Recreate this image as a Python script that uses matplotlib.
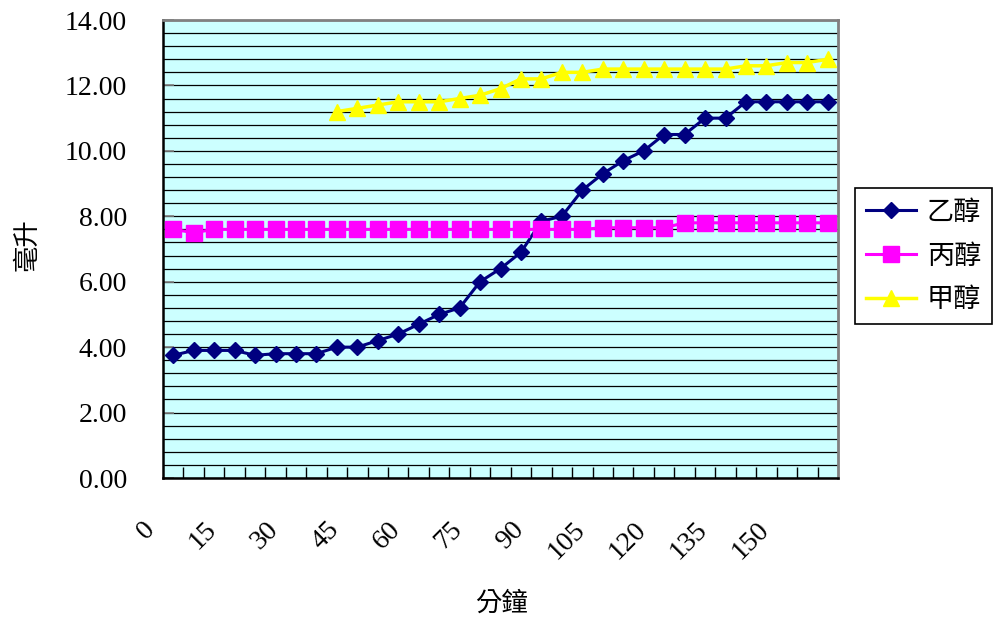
import numpy as np
import matplotlib
matplotlib.use("Agg")
import matplotlib.pyplot as plt
from matplotlib.transforms import ScaledTranslation

plt.rcParams['font.family'] = ['Liberation Serif', 'Noto Sans CJK TC']

# minutes on the category axis (one every 5 min)
minutes = [0, 5, 10, 15, 20, 25, 30, 35, 40, 45, 50, 55, 60, 65, 70, 75, 80,
           85, 90, 95, 100, 105, 110, 115, 120, 125, 130, 135, 140, 145, 150, 155, 160]

ethanol = [3.75, 3.9, 3.9, 3.9, 3.75, 3.8, 3.8, 3.8, 4.0, 4.0, 4.2, 4.4, 4.7,
           5.0, 5.2, 6.0, 6.4, 6.9, 7.85, 8.0, 8.8, 9.3, 9.7, 10.0, 10.5, 10.5,
           11.0, 11.0, 11.5, 11.5, 11.5, 11.5, 11.5]
propanol = [7.6, 7.5, 7.6, 7.6, 7.6, 7.6, 7.6, 7.6, 7.6, 7.6, 7.6, 7.6, 7.6,
            7.6, 7.6, 7.6, 7.6, 7.6, 7.6, 7.6, 7.6, 7.65, 7.65, 7.65, 7.65,
            7.8, 7.8, 7.8, 7.8, 7.8, 7.8, 7.8, 7.8]
# methanol only measured from 40 min on
methanol_start = 40
methanol = [11.2, 11.3, 11.4, 11.5, 11.5, 11.5, 11.6, 11.7, 11.9, 12.2, 12.2,
            12.4, 12.4, 12.5, 12.5, 12.5, 12.5, 12.5, 12.5, 12.5, 12.6, 12.6,
            12.7, 12.7, 12.8]

labels = ['乙醇', '丙醇', '甲醇']

pos = np.arange(len(minutes))
m0 = minutes.index(methanol_start)

fig = plt.figure(figsize=(9.96, 6.21), dpi=100)
ax = fig.add_axes([163/996, 1 - 478/621, 675/996, 458/621])
ax.set_facecolor('#CCFFFF')

ax.plot(pos, ethanol, color='#000080', lw=2.2, marker='D', ms=8.5,
        mfc='#000080', mec='#000080', label=labels[0], zorder=3)
ax.plot(pos, propanol, color='#FF00FF', lw=2.2, marker='s', ms=11.5,
        mfc='#FF00FF', mec='#FF00FF', label=labels[1], zorder=3)
ax.plot(pos[m0:], methanol, color='#FFFF00', lw=2.5, marker='^', ms=11.5,
        mfc='#FFFF00', mec='#FFFF00', label=labels[2], zorder=3)

ax.set_xlim(-0.5, len(minutes) - 0.5)
ax.set_ylim(0, 14)

# y axis
ax.set_yticks(np.arange(0, 14.01, 2))
ax.set_yticks(np.arange(0, 14.01, 0.4), minor=True)
ax.yaxis.set_major_formatter(matplotlib.ticker.FormatStrFormatter('%.2f'))
ax.yaxis.grid(True, which='both', color='black', lw=0.9)
ax.set_axisbelow(True)
ax.tick_params(axis='y', which='major', direction='in', length=8, width=1.2,
               color='#808080', labelsize=20, pad=26)
ax.tick_params(axis='y', which='minor', length=0)

# x axis: ticks between categories, label every 3rd category
ax.set_xticks(pos[::3])
ax.set_xticklabels([str(m) for m in minutes[::3]], rotation=45, ha='right', va='top')
ax.set_xticks(np.arange(0.5, len(minutes) - 0.5, 1), minor=True)
ax.tick_params(axis='x', which='major', length=0, labelsize=20, pad=28)
ax.tick_params(axis='x', which='minor', direction='in', length=8, width=1.0, color='black')
off = ScaledTranslation(-13/100, 0, fig.dpi_scale_trans)
for lab in ax.get_xticklabels():
    lab.set_transform(lab.get_transform() + off)

for side in ['left', 'bottom']:
    ax.spines[side].set_color('black')
    ax.spines[side].set_linewidth(1.8)
for side in ['top', 'right']:
    ax.spines[side].set_color('#808080')
    ax.spines[side].set_linewidth(2)

fig.text(27/996, 1 - 245/621, '毫升', rotation=90, ha='center', va='center',
         fontsize=19, family=['Noto Sans CJK TC'])
fig.text(501/996, 1 - 603/621, '分鐘', ha='center', va='center',
         fontsize=19, family=['Noto Sans CJK TC'])

leg = ax.legend(loc='center left', bbox_to_anchor=(855/996, 1 - 256/621),
                bbox_transform=fig.transFigure, borderaxespad=0,
                prop={'family': ['Noto Sans CJK TC'], 'size': 19.5},
                handlelength=1.85, handletextpad=0.4, labelspacing=0.62,
                borderpad=0.4, fancybox=False, framealpha=1)
leg.get_frame().set_edgecolor('black')
leg.get_frame().set_linewidth(1.2)

fig.savefig('out.png', dpi=100, facecolor='white')
